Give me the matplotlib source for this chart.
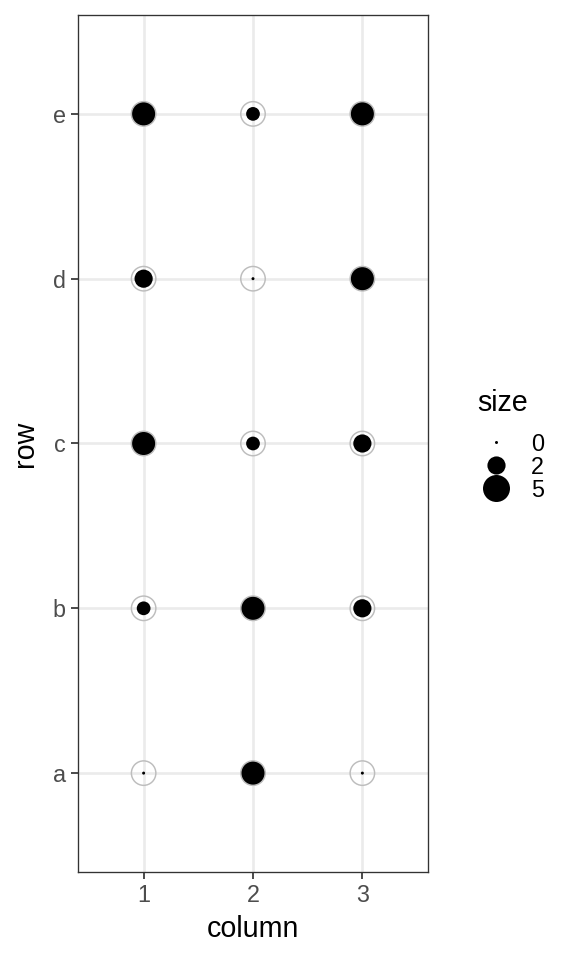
import numpy as np
import matplotlib.pyplot as plt
from matplotlib.lines import Line2D

plt.rcParams['font.family'] = ['Liberation Sans', 'DejaVu Sans']

# ==========================================
# Data
# ==========================================

rows = ["a", "b", "c", "d", "e"]
columns = [1, 2, 3]
col1_values = [0, 1, 4, 2, 4]  # waarden van a t/m e
col2_values = [4, 4, 1, 0, 1]
col3_values = [0, 2, 2, 4, 4]
legend_breaks = [0, 2, 5]
size_limit = 5  # bovengrens van de size-schaal


def marker_diameter(v):
    # oppervlakte-schaal (sqrt), diameter in pt bij 96 dpi
    return (3 + 24 * np.sqrt(np.asarray(v, dtype=float) / size_limit)) * 0.75


values = np.array([col1_values, col2_values, col3_values])  # shape (kolom, rij)
xs, ys, vs = [], [], []
for ci, col in enumerate(columns):
    for ri, _ in enumerate(rows):
        xs.append(col)
        ys.append(ri + 1)
        vs.append(values[ci, ri])
vs = np.array(vs)

# ==========================================
# Figuur
# ==========================================

fig = plt.figure(figsize=(6, 10), dpi=96)
ax = fig.add_axes([78 / 576, 88 / 960, 350 / 576, 857 / 960])

ax.scatter(xs, ys, s=marker_diameter(vs) ** 2, color="black", linewidths=0, zorder=3)
ring = marker_diameter(vs.max())
ax.scatter(xs, ys, s=ring ** 2, facecolors="none", edgecolors="#BDBDBD", linewidths=1.1, zorder=4)

ax.set_xlim(0.4, 3.6)
ax.set_ylim(0.4, 5.6)
ax.set_xticks(columns)
ax.set_xticklabels([str(c) for c in columns])
ax.set_yticks(np.arange(1, len(rows) + 1))
ax.set_yticklabels(rows)

ax.set_axisbelow(True)
ax.grid(True, color="#EBEBEB", linewidth=2.0)
for sp in ax.spines.values():
    sp.set_color("#333333")
    sp.set_linewidth(1.0)
ax.tick_params(length=5.25, width=1.3, color="#333333", labelcolor="#4D4D4D",
               labelsize=17.5, pad=4)

ax.set_xlabel("column", fontsize=21.5, labelpad=6)
ax.set_ylabel("row", fontsize=21.5, labelpad=10)

# legenda
handles = [Line2D([], [], linestyle="none", marker="o", markersize=float(marker_diameter(b)),
                  markerfacecolor="black", markeredgewidth=0) for b in legend_breaks]
leg = fig.legend(handles, [str(b) for b in legend_breaks], title="size",
                 loc="center left", bbox_to_anchor=(466 / 576, 1 - 445 / 960),
                 frameon=False, fontsize=17.5, title_fontsize=21.5, labelspacing=0.0,
                 handlelength=1.6, handletextpad=0.7, borderpad=0, alignment="left")
leg._legend_box.sep = 12  # extra ruimte onder de titel

plt.savefig("out.png", dpi=96)
plt.close()
